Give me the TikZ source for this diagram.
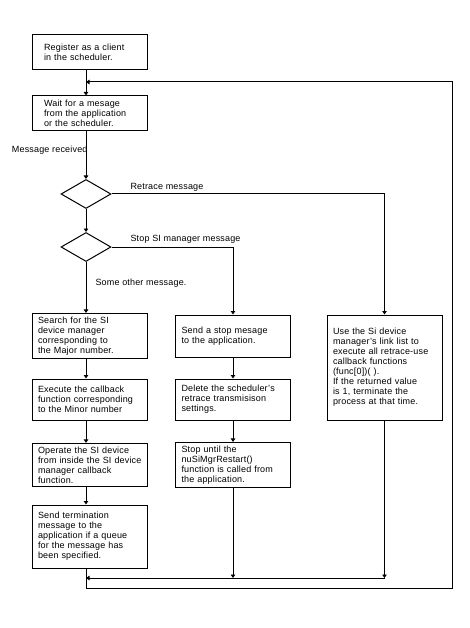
\documentclass[tikz,border=0pt]{standalone}
\usepackage{fontspec}
\setmainfont[LetterSpace=2]{Liberation Sans}
\usetikzlibrary{shapes.geometric,arrows.meta}

\begin{document}
\begin{tikzpicture}[x=1pt,y=-1pt,
	every node/.style={font=\fontsize{9}{10}\selectfont},
	stepbox/.style={draw,line width=1pt,text width=103pt,inner xsep=6pt,align=left},
	test/.style={draw,line width=1pt,diamond,minimum width=50pt,minimum height=29pt,inner sep=0pt},
	flow/.style={line width=1pt,-{Triangle[length=3.5pt,width=4.5pt]}}]

	\useasboundingbox (0,0) rectangle (469,628);

	\node[stepbox,text width=91pt,inner xsep=12pt,minimum height=35pt] (reg) at (89.5,52.5) {Register as a client\\in the scheduler.};
	\node[stepbox,text width=91pt,inner xsep=12pt,minimum height=35pt] (wait) at (89.5,113.5) {Wait for a mesage\\from the application\\or the scheduler.};

	\node[test] (d1) at (86,194) {};
	\node[test] (d2) at (86,247) {};

	\node[stepbox,minimum height=42pt] (s1) at (89.5,336) {Search for the SI\\device manager\\corresponding to\\the Major number.};
	\node[stepbox,minimum height=41pt] (s2) at (89.5,399.5) {Execute the callback\\function corresponding\\to the Minor number};
	\node[stepbox,minimum height=42pt] (s3) at (89.5,465) {Operate the SI device\\\mbox{from inside the SI device}\\manager callback\\function.};
	\node[stepbox,minimum height=63pt] (s4) at (89.5,536.5) {Send termination\\message to the\\application if a queue\\for the message has\\been specified.};

	\node[stepbox,minimum height=42pt] (m1) at (233,336) {Send a stop mesage\\to the application.};
	\node[stepbox,minimum height=41pt] (m2) at (233,399.5) {Delete the scheduler's\\retrace transmisison\\settings.};
	\node[stepbox,minimum height=42pt] (m3) at (233,465) {Stop until the\\nuSiMgrRestart()\\function is called from\\the application.};

	\node[stepbox,minimum height=105pt] (r1) at (384.5,367.5) {Use the Si device\\manager's link list to\\execute all retrace-use\\callback functions\\(func[0])( ).\\If the returned value\\is 1, terminate the\\process at that time.};

	% labels
	\node[anchor=east] (recv) at (91,150) {Message received};
	\node[anchor=west] (retr) at (127,187) {Retrace message};
	\node[anchor=west] (stopm) at (127,239) {Stop SI manager message};
	\node[anchor=west] (other) at (92,283) {Some other message.};

	\coordinate (mj) at (86,578);
	\coordinate (lb) at (452,588);
	\coordinate (top) at (86,82);

	\draw[flow] (reg.south -| d1) -- (wait.north -| d1);
	\draw[flow] (wait.south -| d1) -- (d1.north);
	\draw[flow] (d1.south) -- (d2.north);
	\draw[flow] (d1.east) -| (r1.north);
	\draw[flow] (d2.east) -| (m1.north);
	\draw[flow] (d2.south) -- (s1.north -| d2);

	\draw[flow] (s1.south -| d1) -- (s2.north -| d1);
	\draw[flow] (s2.south -| d1) -- (s3.north -| d1);
	\draw[flow] (s3.south -| d1) -- (s4.north -| d1);

	\draw[flow] (m1.south) -- (m2.north);
	\draw[flow] (m2.south) -- (m3.north);
	\draw[flow] (m3.south) -- (m3.south |- mj);
	\draw[flow] (r1.south) -- (r1.south |- mj);
	\draw[flow] (r1.south |- mj) -- (mj);

	\draw[flow] (s4.south -| d1) |- (lb) |- (top);

\end{tikzpicture}
\end{document}
